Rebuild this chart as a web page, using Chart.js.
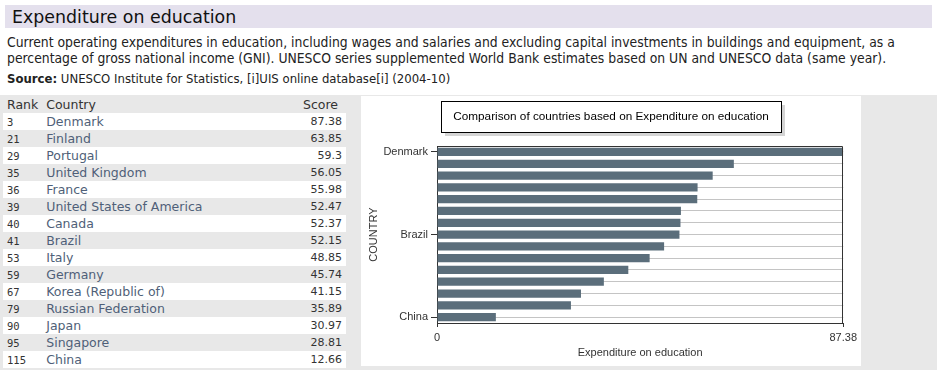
<!DOCTYPE html>
<html>
<head>
<meta charset="utf-8">
<script src="https://cdn.jsdelivr.net/npm/chart.js@4.4.1/dist/chart.umd.min.js"></script>
<style>
  body { margin: 0; background: #fff; width: 947px; height: 380px; overflow: hidden; position: relative; }
  .head { position: absolute; left: 5px; top: 5px; width: 927px; height: 23px; background: #e4e0ed;
          font: 17.4px "DejaVu Sans", sans-serif; color: #111; line-height: 24px; padding-left: 7px; box-sizing: border-box; }
  .desc { position: absolute; left: 7px; top: 35px; width: 912px; font: 13.8px "DejaVu Sans Condensed", sans-serif;
          color: #222; line-height: 15.5px; }
  .src { position: absolute; left: 7px; top: 71px; font: 13px "DejaVu Sans Condensed", sans-serif; color: #222; }
  .panel { position: absolute; left: 0; top: 95px; width: 937px; height: 275px; background: #e8e8e8; }
  table { position: absolute; left: 3px; top: 96px; width: 343px; border-collapse: collapse; }
  td, th { padding: 0 4px; height: 17px; white-space: nowrap; }
  th { font: 12.5px "DejaVu Sans", sans-serif; color: #333; font-weight: normal; text-align: left; }
  td.r { font: 10.5px "DejaVu Sans Mono", monospace; color: #333; width: 30px; }
  td.c { font: 12.5px "DejaVu Sans", sans-serif; color: #4f5f78; }
  td.s { font: 11px "DejaVu Sans", sans-serif; color: #333; text-align: right; padding-right: 4px; }
  tr.w td { background: #fff; }
  .chartbox { position: absolute; left: 361px; top: 96px; width: 500px; height: 270px; background: #fff; }
</style>
</head>
<body>
<div class="head">Expenditure on education</div>
<div class="desc">Current operating expenditures in education, including wages and salaries and excluding capital investments in buildings and equipment, as a percentage of gross national income (GNI). UNESCO series supplemented World Bank estimates based on UN and UNESCO data (same year).</div>
<div class="src"><b>Source:</b> UNESCO Institute for Statistics, [i]UIS online database[i] (2004&#8209;10)</div>
<div class="panel"></div>
<table id="tbl"></table>
<div class="chartbox"><canvas id="myChart"></canvas></div>
<script>
var ranks = [3, 21, 29, 35, 36, 39, 40, 41, 53, 59, 67, 79, 90, 95, 115];
var countries = ["Denmark", "Finland", "Portugal", "United Kingdom", "France",
                 "United States of America", "Canada", "Brazil", "Italy", "Germany",
                 "Korea (Republic of)", "Russian Federation", "Japan", "Singapore", "China"];
var scores = [87.38, 63.85, 59.3, 56.05, 55.98, 52.47, 52.37, 52.15, 48.85, 45.74,
              41.15, 35.89, 30.97, 28.81, 12.66];
var shownLabels = ["Denmark", "Brazil", "China"];
var xTicks = [0, 87.38];
var chartTitle = "Comparison of countries based on Expenditure on education";

// table on the left
var tbl = document.getElementById('tbl');
var html = '<tr><th style="width:30px">Rank</th><th>Country</th><th style="text-align:right;padding-right:8px">Score</th></tr>';
for (var i = 0; i < countries.length; i++) {
  html += '<tr class="' + (i % 2 == 0 ? 'w' : 'g') + '"><td class="r">' + ranks[i] + '</td><td class="c">' +
          countries[i] + '</td><td class="s">' + scores[i] + '</td></tr>';
}
tbl.innerHTML = html;

var ink = '#333';
var titleFont = {family: '"Liberation Sans", Arial, sans-serif', size: 11.75};

// box with shadow behind the title, and frame round the plot
var framePlugin = {
  id: 'frame',
  beforeDraw: function(chart) {
    var ctx = chart.ctx, t = chart.titleBlock;
    ctx.save();
    ctx.font = titleFont.size + 'px ' + titleFont.family;
    var w = ctx.measureText(chartTitle).width;
    var cx = (t.left + t.right) / 2;
    var x0 = Math.round(cx - w / 2 - 12), x1 = Math.round(cx + w / 2 + 12);
    var y0 = 5, y1 = 36;
    ctx.fillStyle = '#d4d4d4';
    ctx.fillRect(x0 + 4, y0 + 4, x1 - x0, y1 - y0);
    ctx.fillStyle = '#fff';
    ctx.fillRect(x0, y0, x1 - x0, y1 - y0);
    ctx.strokeStyle = '#000';
    ctx.lineWidth = 1;
    ctx.strokeRect(x0 + 0.5, y0 + 0.5, x1 - x0, y1 - y0);
    ctx.restore();
  },
  afterDatasetsDraw: function(chart) {
    var a = chart.chartArea, ctx = chart.ctx;
    ctx.save();
    ctx.strokeStyle = ink;
    ctx.lineWidth = 1;
    ctx.beginPath();
    ctx.moveTo(Math.round(a.left) + 0.5, Math.round(a.top) + 0.5);
    ctx.lineTo(Math.round(a.right) - 0.5, Math.round(a.top) + 0.5);
    ctx.lineTo(Math.round(a.right) - 0.5, Math.round(a.bottom));
    ctx.stroke();
    ctx.restore();
  }
};

function createChart() {
  var ctx = document.getElementById('myChart').getContext('2d');
  new Chart(ctx, {
    type: 'bar',
    data: {
      labels: countries,
      datasets: [{
        label: 'Expenditure on education',
        data: scores,
        backgroundColor: '#5b6e7b',
        borderWidth: 0,
        barPercentage: 0.7,
        categoryPercentage: 1
      }]
    },
    options: {
      indexAxis: 'y',
      responsive: true,
      maintainAspectRatio: false,
      animation: false,
      layout: {padding: {left: 0, right: 0, top: 0, bottom: 0}},
      plugins: {
        legend: {display: false},
        tooltip: {enabled: false},
        title: {
          display: true,
          text: chartTitle,
          color: '#000',
          font: {family: titleFont.family, size: titleFont.size, weight: 'normal'},
          padding: {top: 14, bottom: 22}
        }
      },
      scales: {
        x: {
          min: 0,
          max: xTicks[1],
          afterBuildTicks: function(scale) {
            scale.ticks = xTicks.map(function(v) { return {value: v}; });
          },
          afterFit: function(scale) { scale.height = 43; },
          ticks: {
            color: ink,
            padding: 4,
            maxRotation: 0,
            autoSkip: false,
            font: {family: titleFont.family, size: 11},
            callback: function(v) { return String(v); }
          },
          grid: {drawOnChartArea: false, tickLength: 4, color: ink},
          border: {color: ink},
          title: {
            display: true,
            text: 'Expenditure on education',
            color: ink,
            font: {family: titleFont.family, size: 11},
            padding: {top: 0, bottom: 6}
          }
        },
        y: {
          afterFit: function(scale) { scale.width = 76; },
          ticks: {
            autoSkip: false,
            color: ink,
            padding: 3,
            font: {family: titleFont.family, size: 11},
            callback: function(v, i) {
              var name = countries[i];
              return shownLabels.indexOf(name) >= 0 ? name : '';
            }
          },
          grid: {
            offset: false,
            color: '#c4c4c4',
            tickLength: 6,
            tickColor: function(c) {
              return shownLabels.indexOf(countries[c.index]) >= 0 ? ink : 'rgba(0,0,0,0)';
            }
          },
          border: {color: ink},
          title: {
            display: true,
            text: 'COUNTRY',
            color: ink,
            font: {family: titleFont.family, size: 11},
            padding: {top: 6, bottom: 0}
          }
        }
      }
    },
    plugins: [framePlugin]
  });
}

createChart();
</script>
</body>
</html>
